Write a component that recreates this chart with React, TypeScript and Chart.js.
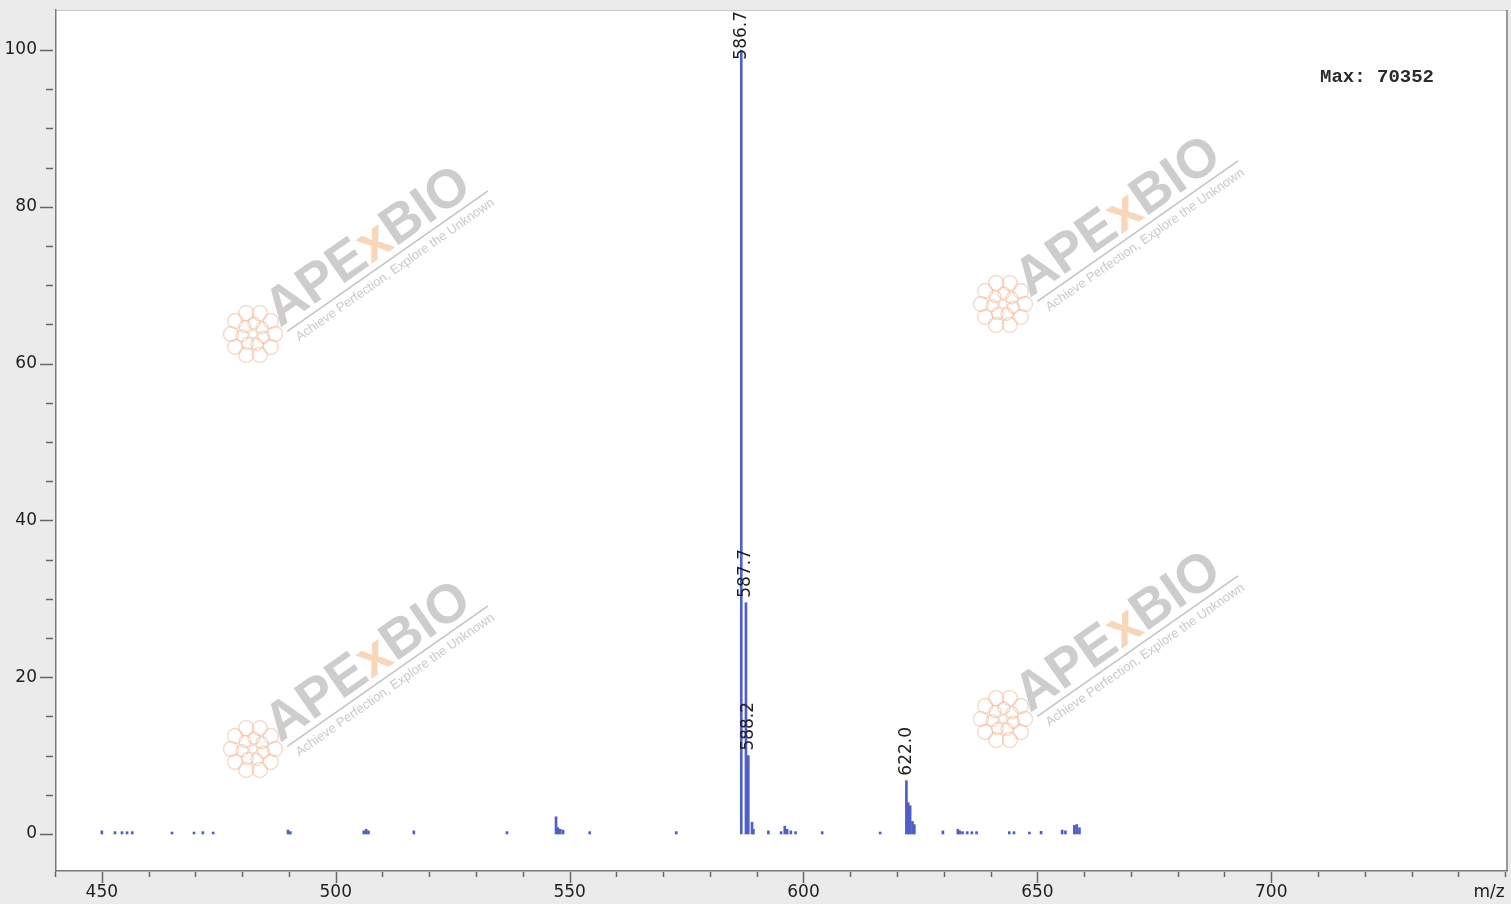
import React, { useEffect, useRef } from 'react';
import { Chart, registerables } from 'chart.js';

Chart.register(...registerables);

// m/z positions of the spectrum sticks
const mzValues = [
  450.0, 452.8, 454.3, 455.4, 456.5, 465.0, 469.7, 471.6, 473.8,
  489.8, 490.3, 506.0, 506.5, 507.0, 516.7, 536.6,
  547.1, 547.5, 548.0, 548.6, 554.3, 572.8,
  586.7, 587.7, 588.2, 589.0, 589.3, 592.5, 595.2, 596.0, 596.5, 597.3, 598.3, 604.0,
  616.4, 622.0, 622.4, 622.8, 623.3, 623.7,
  629.8, 633.0, 633.4, 634.0, 635.0, 636.0, 637.0, 644.0, 645.0, 648.3, 650.8,
  655.3, 656.0, 657.9, 658.4, 659.0,
];
// relative intensities (%)
const intensities = [
  0.4, 0.3, 0.3, 0.3, 0.3, 0.25, 0.25, 0.3, 0.25,
  0.5, 0.3, 0.4, 0.6, 0.4, 0.4, 0.3,
  2.2, 0.8, 0.6, 0.5, 0.3, 0.3,
  100, 29.5, 10.0, 1.5, 0.6, 0.4, 0.3, 1.0, 0.6, 0.4, 0.3, 0.3,
  0.25, 6.8, 4.0, 3.6, 1.6, 1.2,
  0.4, 0.6, 0.4, 0.3, 0.3, 0.3, 0.3, 0.3, 0.3, 0.25, 0.35,
  0.5, 0.4, 1.1, 1.2, 0.8,
];

const peakLabelMz = [586.7, 587.7, 588.2, 622.0];
const peakLabelHeight = [100, 29.5, 10.0, 6.8];
const peakLabels = ['586.7', '587.7', '588.2', '622.0'];

const xMajorTicks = [450, 500, 550, 600, 650, 700];
const yMajorTicks = [0, 20, 40, 60, 80, 100];
const xMinorStep = 10;
const yMinorStep = 5;

const maxText = 'Max: 70352';
const xAxisTitle = 'm/z';
const watermarkBrand = ['APE', 'x', 'BIO'];
const watermarkTagline = 'Achieve Perfection, Explore the Unknown';

const watermarkOrigins = [
  [280, 328],
  [1030, 298],
  [280, 743],
  [1030, 713],
];

function drawWatermark(ctx: CanvasRenderingContext2D, ox: number, oy: number) {
  ctx.save();
  // flower logo
  ctx.strokeStyle = 'rgba(240, 180, 145, 0.5)';
  ctx.lineWidth = 1.4;
  const lx = ox - 27;
  const ly = oy + 6;
  for (let i = 0; i < 10; i++) {
    const a = (i / 10) * Math.PI * 2;
    ctx.beginPath();
    ctx.arc(lx + Math.cos(a) * 22, ly + Math.sin(a) * 22, 7.5, 0, Math.PI * 2);
    ctx.stroke();
  }
  for (let i = 0; i < 7; i++) {
    const a = (i / 7) * Math.PI * 2 + 0.3;
    ctx.beginPath();
    ctx.arc(lx + Math.cos(a) * 11, ly + Math.sin(a) * 11, 6, 0, Math.PI * 2);
    ctx.stroke();
  }
  ctx.beginPath();
  ctx.arc(lx, ly, 4, 0, Math.PI * 2);
  ctx.stroke();

  ctx.translate(ox, oy);
  ctx.rotate((-35 * Math.PI) / 180);
  ctx.font = 'bold 54px "Liberation Sans", Arial, sans-serif';
  ctx.textBaseline = 'alphabetic';
  ctx.textAlign = 'left';
  let x = 0;
  watermarkBrand.forEach((part, i) => {
    ctx.fillStyle = i === 1 ? 'rgba(247, 210, 175, 0.9)' : 'rgba(196, 196, 196, 0.85)';
    ctx.fillText(part, x, 0);
    x += ctx.measureText(part).width;
  });
  ctx.strokeStyle = 'rgba(180, 180, 180, 0.8)';
  ctx.lineWidth = 1.5;
  ctx.beginPath();
  ctx.moveTo(4, 7);
  ctx.lineTo(x + 12, 7);
  ctx.stroke();
  ctx.fillStyle = 'rgba(195, 195, 195, 0.9)';
  ctx.font = '13px "Liberation Sans", Arial, sans-serif';
  ctx.fillText(watermarkTagline, 8, 22);
  ctx.restore();
}

const decorPlugin = {
  id: 'spectrumDecor',
  beforeDraw(chart: any) {
    const { ctx, chartArea, width, height } = chart;
    ctx.save();
    ctx.fillStyle = '#ebebeb';
    ctx.fillRect(0, 0, width, height);
    ctx.fillStyle = '#ffffff';
    ctx.fillRect(chartArea.left, chartArea.top, chartArea.right - chartArea.left, chartArea.bottom - chartArea.top);
    ctx.strokeStyle = '#c8c8c8';
    ctx.lineWidth = 1;
    ctx.beginPath();
    ctx.moveTo(chartArea.left, chartArea.top + 0.5);
    ctx.lineTo(chartArea.right, chartArea.top + 0.5);
    ctx.stroke();
    ctx.restore();
  },
  beforeDatasetsDraw(chart: any) {
    const { ctx } = chart;
    watermarkOrigins.forEach(([ox, oy]) => drawWatermark(ctx, ox, oy));
  },
  afterDraw(chart: any) {
    const { ctx, chartArea } = chart;
    const xs = chart.scales.x;
    const ys = chart.scales.y;
    ctx.save();
    // right border
    ctx.strokeStyle = '#7a7a7a';
    ctx.lineWidth = 1.5;
    ctx.beginPath();
    ctx.moveTo(chartArea.right, chartArea.top);
    ctx.lineTo(chartArea.right, chartArea.bottom);
    ctx.stroke();

    // y ticks
    ctx.strokeStyle = '#666';
    ctx.lineWidth = 1.5;
    for (let v = 0; v <= 100; v += yMinorStep) {
      const y = Math.round(ys.getPixelForValue(v)) + 0.5;
      const major = yMajorTicks.includes(v);
      ctx.beginPath();
      ctx.moveTo(chartArea.left - (major ? 16 : 10), y);
      ctx.lineTo(chartArea.left - 3, y);
      ctx.stroke();
    }
    // x ticks
    for (let v = 440; v <= 750; v += xMinorStep) {
      const x = Math.round(xs.getPixelForValue(v)) + 0.5;
      const major = xMajorTicks.includes(v);
      ctx.beginPath();
      ctx.moveTo(x, chartArea.bottom + 1);
      ctx.lineTo(x, chartArea.bottom + (major ? 12 : 6));
      ctx.stroke();
    }

    // peak labels
    ctx.fillStyle = '#1e1e1e';
    ctx.font = '17px "DejaVu Sans", sans-serif';
    ctx.textAlign = 'left';
    ctx.textBaseline = 'middle';
    peakLabels.forEach((label, i) => {
      const x = xs.getPixelForValue(peakLabelMz[i]);
      const top = ys.getPixelForValue(peakLabelHeight[i]);
      const w = ctx.measureText(label).width;
      const bottom = Math.max(top - 5, chartArea.top + w + 1);
      ctx.save();
      ctx.translate(x, bottom);
      ctx.rotate(-Math.PI / 2);
      ctx.fillText(label, 0, 0);
      ctx.restore();
    });

    // Max text
    ctx.fillStyle = '#2a2a2a';
    ctx.font = 'bold 19px "Liberation Mono", "DejaVu Sans Mono", monospace';
    ctx.textAlign = 'left';
    ctx.textBaseline = 'middle';
    ctx.fillText(maxText, chartArea.right - 187, chartArea.top + 67);

    // axis title
    ctx.fillStyle = '#1e1e1e';
    ctx.font = '17px "DejaVu Sans", sans-serif';
    ctx.textAlign = 'center';
    ctx.fillText(xAxisTitle, chartArea.right - 18, chartArea.bottom + 22);
    ctx.restore();
  },
};

export default function App() {
  const canvasRef = useRef<HTMLCanvasElement | null>(null);

  useEffect(() => {
    const canvas = canvasRef.current;
    if (!canvas) return;
    const chart = new Chart(canvas, {
      type: 'bar',
      data: {
        datasets: [
          {
            data: mzValues.map((x, i) => ({ x, y: intensities[i] })),
            backgroundColor: '#4f5fc8',
            borderWidth: 0,
            barThickness: 2,
          } as any,
        ],
      },
      options: {
        animation: false,
        responsive: false,
        devicePixelRatio: 1,
        layout: { padding: { top: 10, right: 4, left: 0, bottom: 0 } },
        plugins: { legend: { display: false }, tooltip: { enabled: false } },
        scales: {
          x: {
            type: 'linear',
            min: 440.2,
            max: 750.4,
            offset: false,
            afterFit: (s: any) => {
              s.height = 33;
              s.paddingLeft = 0;
              s.paddingRight = 0;
            },
            grid: { display: false, drawTicks: false },
            border: { display: true, color: '#7a7a7a', width: 1.5 },
            ticks: {
              stepSize: 50,
              includeBounds: false,
              autoSkip: false,
              maxRotation: 0,
              color: '#1e1e1e',
              padding: 11,
              font: { family: '"DejaVu Sans", sans-serif', size: 17 },
              callback: (v: any) => (xMajorTicks.includes(Number(v)) ? String(v) : ''),
            },
          },
          y: {
            type: 'linear',
            min: -4.72,
            max: 105.1,
            afterFit: (s: any) => {
              s.width = 56;
              s.paddingTop = 0;
              s.paddingBottom = 0;
            },
            grid: { display: false, drawTicks: false },
            border: { display: true, color: '#7a7a7a', width: 1.5 },
            ticks: {
              stepSize: 20,
              includeBounds: false,
              autoSkip: false,
              color: '#1e1e1e',
              padding: 19,
              font: { family: '"DejaVu Sans", sans-serif', size: 17 },
              callback: (v: any) => (yMajorTicks.includes(Number(v)) ? String(v) : ''),
            },
          },
        },
      } as any,
      plugins: [decorPlugin],
    });
    return () => chart.destroy();
  }, []);

  return (
    <div style={{ position: 'fixed', left: 0, top: 0, width: 1511, height: 904 }}>
      <canvas ref={canvasRef} width={1511} height={904} style={{ display: 'block' }} />
    </div>
  );
}
